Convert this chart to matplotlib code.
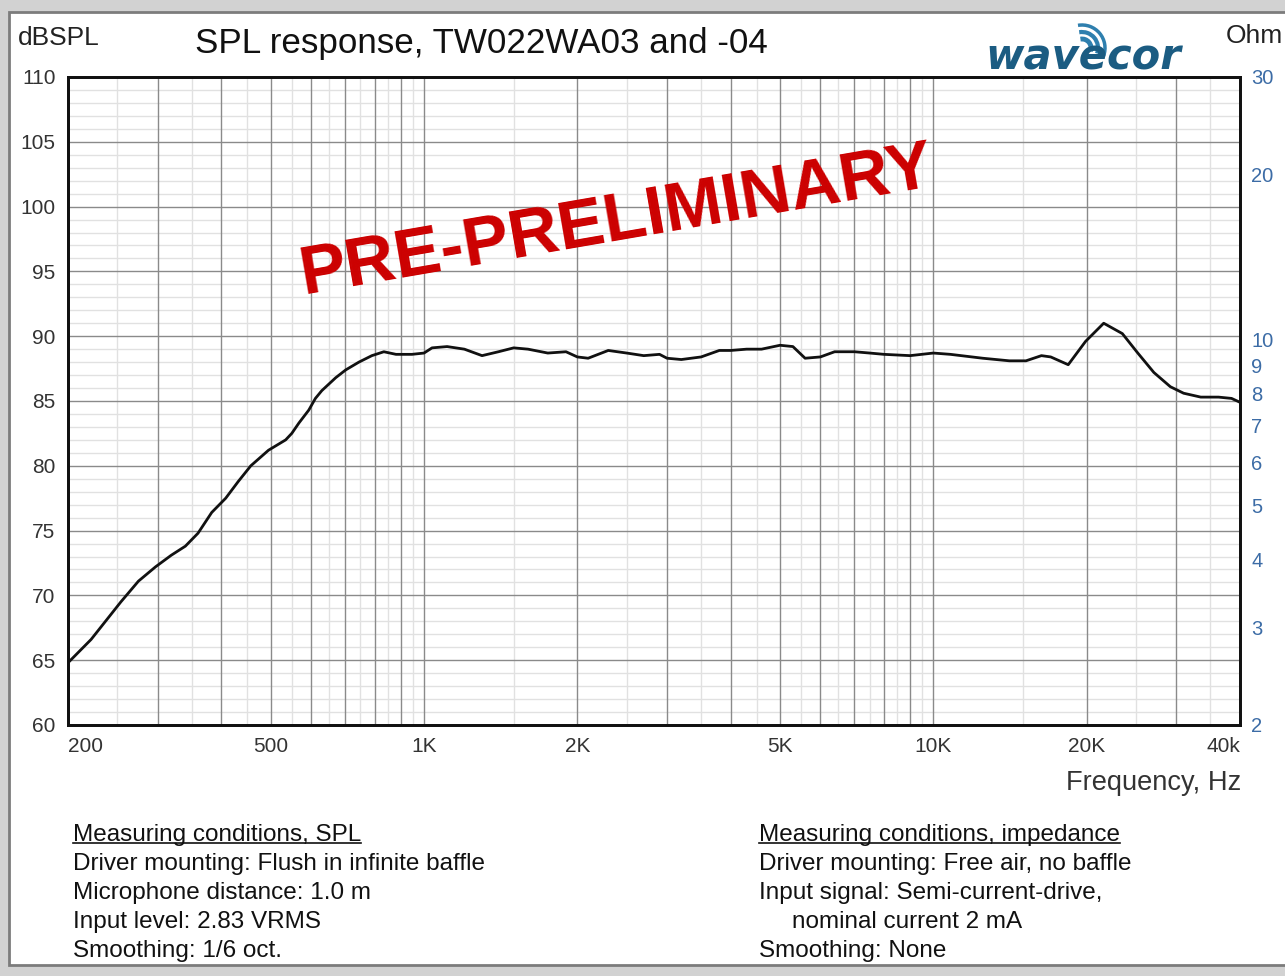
import matplotlib
matplotlib.use('Agg')
import matplotlib.pyplot as plt
from matplotlib.patches import Rectangle, Arc
from matplotlib.lines import Line2D
from matplotlib.ticker import NullLocator

# ---------------- data ----------------
freq_hz = [200, 222, 254, 275, 297, 319, 340, 360, 383, 408, 432, 457, 495, 535,
           550, 568, 594, 612, 630, 671, 702, 745, 790, 834, 881, 947, 1000, 1037,
           1110, 1200, 1300, 1400, 1500, 1600, 1750, 1900, 2000, 2100, 2300, 2500,
           2700, 2900, 3000, 3200, 3500, 3800, 4000, 4300, 4600, 5000, 5300, 5600,
           6000, 6400, 7000, 7500, 8000, 9000, 10000, 10800, 12500, 14100, 15200,
           16300, 17000, 18400, 19900, 21600, 23500, 25200, 27100, 29200, 31000,
           33500, 36300, 38500, 40000]
spl_db = [64.8, 66.6, 69.5, 71.1, 72.2, 73.1, 73.8, 74.8, 76.4, 77.5, 78.8, 80.0,
          81.2, 82.0, 82.5, 83.3, 84.3, 85.2, 85.8, 86.8, 87.4, 88.0, 88.5, 88.8,
          88.6, 88.6, 88.7, 89.1, 89.2, 89.0, 88.5, 88.8, 89.1, 89.0, 88.7, 88.8,
          88.4, 88.3, 88.9, 88.7, 88.5, 88.6, 88.3, 88.2, 88.4, 88.9, 88.9, 89.0,
          89.0, 89.3, 89.2, 88.3, 88.4, 88.8, 88.8, 88.7, 88.6, 88.5, 88.7, 88.6,
          88.3, 88.1, 88.1, 88.5, 88.4, 87.8, 89.6, 91.0, 90.2, 88.7, 87.2, 86.1,
          85.6, 85.3, 85.3, 85.2, 84.9]

x_tick_vals = [200, 500, 1000, 2000, 5000, 10000, 20000, 40000]
x_tick_text = ['200', '500', '1K', '2K', '5K', '10K', '20K', '40k']
y_tick_vals = [60, 65, 70, 75, 80, 85, 90, 95, 100, 105, 110]
ohm_tick_vals = [2, 3, 4, 5, 6, 7, 8, 9, 10, 20, 30]

title_text = 'SPL response, TW022WA03 and -04'
left_notes = ['Measuring conditions, SPL',
              'Driver mounting: Flush in infinite baffle',
              'Microphone distance: 1.0 m',
              'Input level: 2.83 VRMS',
              'Smoothing: 1/6 oct.']
right_notes = ['Measuring conditions, impedance',
               'Driver mounting: Free air, no baffle',
               'Input signal: Semi-current-drive,',
               'nominal current 2 mA',
               'Smoothing: None']
right_indent = [0, 0, 0, 33, 0]

# ---------------- figure ----------------
plt.rcParams['font.family'] = ['Liberation Sans', 'DejaVu Sans']
W, H = 1285, 976
fig = plt.figure(figsize=(W / 100, H / 100), dpi=100)

# background frame (pixel coordinates)
bg = fig.add_axes([0, 0, 1, 1], zorder=0)
bg.set_xlim(0, W); bg.set_ylim(H, 0); bg.axis('off')
bg.add_patch(Rectangle((0, 0), W, H, facecolor='#d2d2d2', edgecolor='none'))
bg.add_patch(Rectangle((9, 12), W + 20, 953, facecolor='white',
                       edgecolor='#7c7c7c', lw=2))

# main axes
ax = fig.add_axes([68 / W, 1 - 725 / H, 1172 / W, 648 / H], zorder=2)
ax.set_xscale('log')
ax.set_xlim(200, 40000)
ax.set_ylim(60, 110)

dark_x = [m * 10 ** e for e in (2, 3) for m in range(3 if e == 2 else 2, 10)] + [1000, 10000, 20000, 30000]
light_x = [(m + 0.5) * 10 ** e for e in (2, 3) for m in range(2 if e == 2 else 1, 10)] + [15000, 25000, 35000]
for f in light_x:
    ax.axvline(f, color='#e1e1e1', lw=1.0, zorder=1)
for v in range(61, 110):
    if v % 5:
        ax.axhline(v, color='#e1e1e1', lw=1.0, zorder=1)
for f in dark_x:
    ax.axvline(f, color='#8a8a8a', lw=1.0, zorder=2)
for v in y_tick_vals[1:-1]:
    ax.axhline(v, color='#8a8a8a', lw=1.0, zorder=2)

ax.plot(freq_hz, spl_db, color='#111111', lw=2.0, zorder=5,
        solid_capstyle='round', solid_joinstyle='round')

ax.xaxis.set_minor_locator(NullLocator())
ax.set_xticks(x_tick_vals)
ax.set_xticklabels(x_tick_text)
ax.set_yticks(y_tick_vals)
ax.set_yticklabels([str(v) for v in y_tick_vals])
ax.tick_params(axis='both', length=0, labelsize=15, labelcolor='#333333')
ax.tick_params(axis='x', pad=9)
ax.tick_params(axis='y', pad=9)
xl = ax.get_xticklabels()
xl[0].set_ha('left')
xl[-1].set_ha('right')
for s in ax.spines.values():
    s.set_linewidth(2.0)
    s.set_color('#111111')

ax2 = ax.twinx()
ax2.set_yscale('log')
ax2.set_ylim(2, 30)
ax2.yaxis.set_minor_locator(NullLocator())
ax2.set_yticks(ohm_tick_vals)
ax2.set_yticklabels([str(v) for v in ohm_tick_vals])
ax2.tick_params(axis='y', length=0, labelsize=14.5, labelcolor='#3c6ca6', pad=8)
for s in ax2.spines.values():
    s.set_linewidth(2.0)
    s.set_color('#111111')

# foreground overlay (pixel coordinates)
fg = fig.add_axes([0, 0, 1, 1], zorder=10)
fg.set_xlim(0, W); fg.set_ylim(H, 0); fg.axis('off')
fg.patch.set_alpha(0)

fg.text(18, 38, 'dBSPL', fontsize=19, color='#222222', ha='left', va='center')
fg.text(195, 43, title_text, fontsize=25.2, color='#111111', ha='left', va='center')
fg.text(1226, 36, 'Ohm', fontsize=19, color='#222222', ha='left', va='center')
fg.text(1241, 783, 'Frequency, Hz', fontsize=19.6, color='#333333', ha='right', va='center')

fg.text(303, 294, 'PRE-PRELIMINARY', fontsize=50, fontweight='bold', color='#cc0000',
        rotation=9.8, rotation_mode='anchor', ha='left', va='baseline')

# logo
fg.text(985, 70, 'wavecor', fontsize=30, fontweight='bold', fontstyle='italic',
        family='DejaVu Sans', color='#1b5c82', ha='left', va='baseline')
for r, lw in [(9, 3.5), (16, 3.0), (23, 2.5)]:
    fg.add_patch(Arc((1082, 48), 2 * r, 2 * r, theta1=-100, theta2=20,
                     color='#2e7fae', lw=lw))

line_y = [835, 864, 893, 922, 951]
texts = []
for i, (t, yy) in enumerate(zip(left_notes, line_y)):
    tt = fg.text(73, yy, t, fontsize=17.5, color='#111111', ha='left', va='center')
    if i == 0:
        texts.append(tt)
for i, (t, yy, dx) in enumerate(zip(right_notes, line_y, right_indent)):
    tt = fg.text(759 + dx, yy, t, fontsize=17.5, color='#111111', ha='left', va='center')
    if i == 0:
        texts.append(tt)

fig.canvas.draw()
renderer = fig.canvas.get_renderer()
for tt in texts:
    bb = tt.get_window_extent(renderer)
    yline = H - bb.y0 - 3
    fg.add_line(Line2D([bb.x0, bb.x1], [yline, yline], color='#111111', lw=1.2))

fig.savefig('out.png', dpi=100)
